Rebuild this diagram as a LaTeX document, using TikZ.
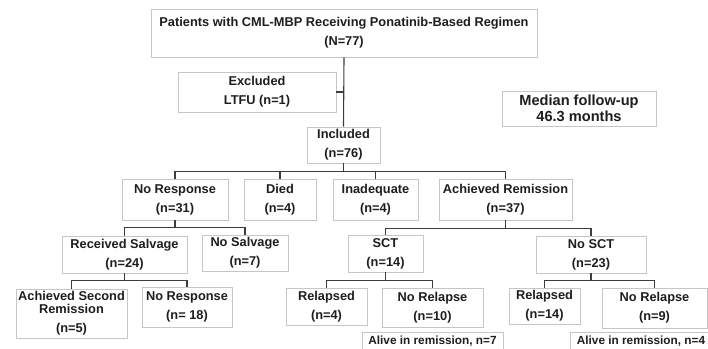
\documentclass[tikz,border=0pt]{standalone}
\usepackage{fontspec}
\setmainfont{Liberation Sans}
\usetikzlibrary{calc,positioning,shadows}
\definecolor{BoxEdge}{HTML}{C6C6C6}
\definecolor{LinkGray}{HTML}{3C3C3C}
\definecolor{InkDark}{HTML}{1E1E1E}
\tikzset{
  box/.style={draw=BoxEdge, line width=0.9pt, fill=white, align=center, inner sep=0pt,
    text=InkDark, font=\bfseries\fontsize{12.8}{19}\selectfont,
    drop shadow={shadow xshift=0.7pt, shadow yshift=-0.7pt, opacity=0.18}},
  link/.style={draw=LinkGray, line width=1.1pt},
  note/.style={box, minimum width=141pt, minimum height=18pt, font=\bfseries\fontsize{11.8}{14}\selectfont},
}

\begin{document}
\begin{tikzpicture}[x=1pt, y=-1pt]
      \useasboundingbox (0,0) rectangle (708,348);
      % Enrolment
      \node[box, minimum width=386pt, minimum height=48pt] (top) at (344,33)
        {Patients with CML-MBP Receiving Ponatinib-Based Regimen\\(N=77)};
      \node[box, minimum width=158pt, minimum height=40pt] (excl) at (257,92) {Excluded\\LTFU (n=1)};
      \node[box, minimum width=154pt, minimum height=35pt,
        font=\bfseries\fontsize{14.6}{15.5}\selectfont] (median) at (579,108.5) {Median follow-up\\46.3 months};
      \node[box, minimum width=73pt, minimum height=36pt] (incl) at (343.5,145) {Included\\(n=76)};
      % First outcome
      \node[box, minimum width=106pt, minimum height=41pt] (nores) at (175,199.5) {No Response\\(n=31)};
      \node[box, minimum width=72pt, minimum height=41pt] (died) at (280,199.5) {Died\\(n=4)};
      \node[box, minimum width=85pt, minimum height=41pt] (inadq) at (375.5,199.5) {Inadequate\\(n=4)};
      \node[box, minimum width=133pt, minimum height=41pt] (achrem) at (505.5,199.5) {Achieved Remission\\(n=37)};
      % Second level
      \node[box, minimum width=125pt, minimum height=37pt] (recsal) at (124.5,254.5) {Received Salvage\\(n=24)};
      \node[box, minimum width=86pt, minimum height=36pt] (nosal) at (245,253) {No Salvage\\(n=7)};
      \node[box, minimum width=75pt, minimum height=37pt] (sct) at (385.5,253.5) {SCT\\(n=14)};
      \node[box, minimum width=110pt, minimum height=37pt] (nosct) at (591,254.5) {No SCT\\(n=23)};
      % Third level
      \node[box, minimum width=111pt, minimum height=49pt, font=\bfseries\fontsize{12.8}{13}\selectfont]
        (achsec) at (71.5,313.5) {Achieved Second\\Remission\\[6pt](n=5)};
      \node[box, minimum width=90pt, minimum height=40pt] (nores2) at (187,307) {No Response\\(n= 18)};
      \node[box, minimum width=81pt, minimum height=37pt] (rel1) at (326.5,306.5) {Relapsed\\(n=4)};
      \node[box, minimum width=101pt, minimum height=39pt] (norel1) at (432.5,307.5) {No Relapse\\(n=10)};
      \node[box, minimum width=71pt, minimum height=36pt] (rel2) at (544.5,306) {Relapsed\\(n=14)};
      \node[box, minimum width=105pt, minimum height=40pt] (norel2) at (654.5,308) {No Relapse\\(n=9)};
      \node[note] (alive1) at (432.5,341) {Alive in remission, n=7};
      \node[note] (alive2) at (641,341.5) {Alive in remission, n=4};
      % Connectors
      \draw[link] (top.south) -- (incl.north);
      \draw[link] (excl.east) -- (excl.east -| top.south);
      \foreach \kid in {nores,died,inadq,achrem}
        \draw[link] (incl.south) -- ++(0,8) -| (\kid.north);
      \foreach \kid in {recsal,nosal}
        \draw[link] (nores.south) -- ++(0,7) -| (\kid.north);
      \foreach \kid in {sct,nosct}
        \draw[link] (achrem.south) -- ++(0,8) -| (\kid.north);
      \foreach \kid in {achsec,nores2}
        \draw[link] (recsal.south) -- ++(0,7) -| (\kid.north);
      \foreach \kid in {rel1,norel1}
        \draw[link] (sct.south) -- ++(0,8) -| (\kid.north);
      \foreach \kid in {rel2,norel2}
        \draw[link] (nosct.south) -- ++(0,7) -| (\kid.north);
    \end{tikzpicture}
\end{document}
